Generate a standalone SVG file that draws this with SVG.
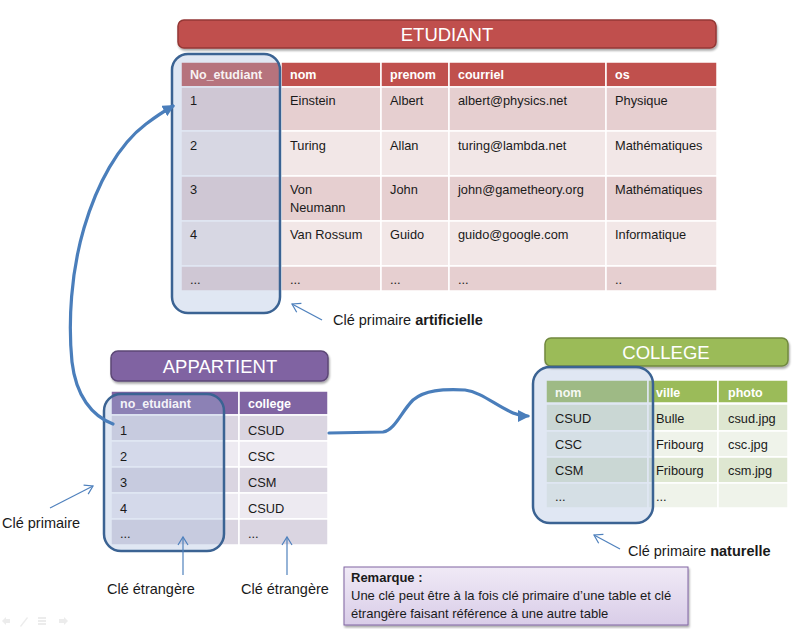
<svg xmlns="http://www.w3.org/2000/svg" width="793" height="629" viewBox="0 0 793 629">
<defs>
<style>
text{font-family:"Liberation Sans",Arial,sans-serif;}
.t{font-size:18.5px;fill:#fff;text-anchor:middle;}
.h{font-size:12.5px;font-weight:bold;fill:#fff;}
.d{font-size:12.8px;fill:#1a1a1a;}
.a{font-size:14.5px;fill:#1a1a1a;}
.r{font-size:13px;fill:#1a1a1a;}
.cell{stroke:#fff;stroke-width:1.5;}
.eh{fill:#C0504D;} .e1{fill:#E6CFD0;} .e2{fill:#F2E7E7;}
.ah{fill:#8064A2;} .a1{fill:#DAD5E1;} .a2{fill:#EDEAF1;}
.ch{fill:#9BBB59;} .c1{fill:#DEE7D1;} .c2{fill:#EFF3EA;}
.ov{fill:#A4B9DC;fill-opacity:0.34;stroke:#3B6393;stroke-width:2.5;}
.link{fill:none;stroke:#4A7EBB;stroke-width:3.2;stroke-linecap:round;}
.ann{fill:none;stroke:#4F81BD;stroke-width:1.2;}
</style>
<filter id="sh" x="-5%" y="-20%" width="110%" height="150%">
<feGaussianBlur in="SourceAlpha" stdDeviation="1.2"/>
<feOffset dx="1" dy="2" result="b"/>
<feComponentTransfer><feFuncA type="linear" slope="0.35"/></feComponentTransfer>
<feMerge><feMergeNode/><feMergeNode in="SourceGraphic"/></feMerge>
</filter>
<linearGradient id="gr" x1="0" y1="0" x2="0" y2="1">
<stop offset="0" stop-color="#F0EAF6"/><stop offset="1" stop-color="#D9CDE8"/>
</linearGradient>
<marker id="big" markerUnits="userSpaceOnUse" markerWidth="14" markerHeight="12" refX="10" refY="6" orient="auto">
<path d="M0,0 L12,6 L0,12 z" fill="#4A7EBB"/>
</marker>
<marker id="open" markerUnits="userSpaceOnUse" markerWidth="12" markerHeight="12" refX="9" refY="6" orient="auto">
<path d="M1,1 L9,6 L1,11" fill="none" stroke="#4F81BD" stroke-width="1.2"/>
</marker>
</defs>
<rect width="793" height="629" fill="#fff"/>

<g id="etudiant">
<rect x="178" y="20" width="538" height="28" rx="6" fill="#C0504D" stroke="#943734" stroke-width="1.5" filter="url(#sh)"/>
<text class="t" x="447" y="41">ETUDIANT</text>
<g>
<rect class="cell eh" x="181" y="62" width="100" height="25"/><rect class="cell eh" x="281" y="62" width="100" height="25"/><rect class="cell eh" x="381" y="62" width="68" height="25"/><rect class="cell eh" x="449" y="62" width="157" height="25"/><rect class="cell eh" x="606" y="62" width="111" height="25"/>
<rect class="cell e1" x="181" y="87" width="100" height="44"/><rect class="cell e1" x="281" y="87" width="100" height="44"/><rect class="cell e1" x="381" y="87" width="68" height="44"/><rect class="cell e1" x="449" y="87" width="157" height="44"/><rect class="cell e1" x="606" y="87" width="111" height="44"/>
<rect class="cell e2" x="181" y="131" width="100" height="45"/><rect class="cell e2" x="281" y="131" width="100" height="45"/><rect class="cell e2" x="381" y="131" width="68" height="45"/><rect class="cell e2" x="449" y="131" width="157" height="45"/><rect class="cell e2" x="606" y="131" width="111" height="45"/>
<rect class="cell e1" x="181" y="176" width="100" height="45"/><rect class="cell e1" x="281" y="176" width="100" height="45"/><rect class="cell e1" x="381" y="176" width="68" height="45"/><rect class="cell e1" x="449" y="176" width="157" height="45"/><rect class="cell e1" x="606" y="176" width="111" height="45"/>
<rect class="cell e2" x="181" y="221" width="100" height="45"/><rect class="cell e2" x="281" y="221" width="100" height="45"/><rect class="cell e2" x="381" y="221" width="68" height="45"/><rect class="cell e2" x="449" y="221" width="157" height="45"/><rect class="cell e2" x="606" y="221" width="111" height="45"/>
<rect class="cell e1" x="181" y="266" width="100" height="25"/><rect class="cell e1" x="281" y="266" width="100" height="25"/><rect class="cell e1" x="381" y="266" width="68" height="25"/><rect class="cell e1" x="449" y="266" width="157" height="25"/><rect class="cell e1" x="606" y="266" width="111" height="25"/>
</g>
<text class="h" x="290" y="79">nom</text><text class="h" x="390" y="79">prenom</text><text class="h" x="458" y="79">courriel</text><text class="h" x="615" y="79">os</text>
<text class="d" x="290" y="105">Einstein</text><text class="d" x="390" y="105">Albert</text><text class="d" x="458" y="105">albert@physics.net</text><text class="d" x="615" y="105">Physique</text>
<text class="d" x="290" y="150">Turing</text><text class="d" x="390" y="150">Allan</text><text class="d" x="458" y="150">turing@lambda.net</text><text class="d" x="615" y="150">Mathématiques</text>
<text class="d" x="290" y="194">Von</text><text class="d" x="290" y="212">Neumann</text><text class="d" x="390" y="194">John</text><text class="d" x="458" y="194">john@gametheory.org</text><text class="d" x="615" y="194">Mathématiques</text>
<text class="d" x="290" y="239">Van Rossum</text><text class="d" x="390" y="239">Guido</text><text class="d" x="458" y="239">guido@google.com</text><text class="d" x="615" y="239">Informatique</text>
<text class="d" x="290" y="284">...</text><text class="d" x="390" y="284">...</text><text class="d" x="458" y="284">...</text><text class="d" x="615" y="284">..</text>
<rect class="ov" x="172" y="54" width="108" height="259" rx="16"/>
<text class="h" x="190" y="79" fill-opacity="0.92">No_etudiant</text>
<text class="d" x="190" y="105">1</text><text class="d" x="190" y="150">2</text><text class="d" x="190" y="194">3</text><text class="d" x="190" y="239">4</text><text class="d" x="190" y="284">...</text>
</g>

<g id="appartient">
<rect x="111" y="351" width="217" height="30" rx="7" fill="#8064A2" stroke="#5C4776" stroke-width="1.5" filter="url(#sh)"/>
<text class="t" x="220" y="373">APPARTIENT</text>
<rect class="cell ah" x="111" y="391" width="128" height="24"/><rect class="cell ah" x="239" y="391" width="89" height="24"/>
<rect class="cell a1" x="111" y="415" width="128" height="26"/><rect class="cell a1" x="239" y="415" width="89" height="26"/>
<rect class="cell a2" x="111" y="441" width="128" height="26"/><rect class="cell a2" x="239" y="441" width="89" height="26"/>
<rect class="cell a1" x="111" y="467" width="128" height="26"/><rect class="cell a1" x="239" y="467" width="89" height="26"/>
<rect class="cell a2" x="111" y="493" width="128" height="26"/><rect class="cell a2" x="239" y="493" width="89" height="26"/>
<rect class="cell a1" x="111" y="519" width="128" height="26"/><rect class="cell a1" x="239" y="519" width="89" height="26"/>
<text class="h" x="248" y="408">college</text>
<text class="d" x="248" y="435">CSUD</text>
<text class="d" x="248" y="461">CSC</text>
<text class="d" x="248" y="487">CSM</text>
<text class="d" x="248" y="513">CSUD</text>
<text class="d" x="248" y="538">...</text>
<rect class="ov" x="104" y="394" width="120" height="157" rx="17"/>
<text class="h" x="120" y="408" fill-opacity="0.92">no_etudiant</text>
<text class="d" x="120" y="435">1</text><text class="d" x="120" y="461">2</text><text class="d" x="120" y="487">3</text><text class="d" x="120" y="513">4</text><text class="d" x="120" y="538">...</text>
</g>

<g id="college">
<rect x="545" y="338" width="243" height="28" rx="6" fill="#9BBB59" stroke="#71893F" stroke-width="1.5" filter="url(#sh)"/>
<text class="t" x="666" y="359">COLLEGE</text>
<rect class="cell ch" x="546" y="380" width="102" height="23"/><rect class="cell ch" x="648" y="380" width="70" height="23"/><rect class="cell ch" x="718" y="380" width="70" height="23"/>
<rect class="cell c1" x="546" y="404" width="102" height="27"/><rect class="cell c1" x="648" y="404" width="70" height="27"/><rect class="cell c1" x="718" y="404" width="70" height="27"/>
<rect class="cell c2" x="546" y="431" width="102" height="26"/><rect class="cell c2" x="648" y="431" width="70" height="26"/><rect class="cell c2" x="718" y="431" width="70" height="26"/>
<rect class="cell c1" x="546" y="457" width="102" height="26"/><rect class="cell c1" x="648" y="457" width="70" height="26"/><rect class="cell c1" x="718" y="457" width="70" height="26"/>
<rect class="cell c2" x="546" y="483" width="102" height="25"/><rect class="cell c2" x="648" y="483" width="70" height="25"/><rect class="cell c2" x="718" y="483" width="70" height="25"/>
<text class="h" x="728" y="397">photo</text>
<text class="d" x="728" y="423">csud.jpg</text>
<text class="d" x="728" y="449">csc.jpg</text>
<text class="d" x="728" y="475">csm.jpg</text>
<rect class="ov" x="533" y="367" width="120" height="156" rx="17"/>
<text class="h" x="555" y="397" fill-opacity="0.92">nom</text><text class="h" x="656" y="397">ville</text>
<text class="d" x="555" y="423">CSUD</text><text class="d" x="656" y="423">Bulle</text>
<text class="d" x="555" y="449">CSC</text><text class="d" x="656" y="449">Fribourg</text>
<text class="d" x="555" y="475">CSM</text><text class="d" x="656" y="475">Fribourg</text>
<text class="d" x="555" y="501">...</text><text class="d" x="656" y="501">...</text>
</g>

<g id="connectors">
<path class="link" d="M113,424 C92,416 76,396 72,362 C68,322 71,272 84,228 C97,184 118,145 146,124 C158,115 166,110 173,106" marker-end="url(#big)"/>
<path class="link" d="M329,433 L383,432 C395,430 401,412 413,400 C425,390 442,389 465,390 C481,392 495,405 513,413 C520,416 524,416 528,416" marker-end="url(#big)"/>
<path class="ann" d="M322,320 L292,304" marker-end="url(#open)"/>
<path class="ann" d="M50,508 L93,486" marker-end="url(#open)"/>
<path class="ann" d="M183,575 L183,537" marker-end="url(#open)"/>
<path class="ann" d="M287,575 L287,537" marker-end="url(#open)"/>
<path class="ann" d="M620,549 L594,535" marker-end="url(#open)"/>
</g>

<g id="labels">
<text class="a" x="333" y="325">Clé primaire <tspan font-weight="bold">artificielle</tspan></text>
<text class="a" x="2" y="528">Clé primaire</text>
<text class="a" x="107" y="594">Clé étrangère</text>
<text class="a" x="241" y="594">Clé étrangère</text>
<text class="a" x="628" y="556">Clé primaire <tspan font-weight="bold">naturelle</tspan></text>
</g>

<g id="remarque">
<rect x="344" y="567" width="344" height="58" fill="url(#gr)" stroke="#8064A2" stroke-width="1" filter="url(#sh)"/>
<text class="r" x="351" y="582" font-weight="bold">Remarque :</text>
<text class="r" x="351" y="600">Une clé peut être à la fois clé primaire d’une table et clé</text>
<text class="r" x="351" y="618">étrangère faisant référence à une autre table</text>
</g>

<g id="controls" fill="#ECECEC" stroke="none">
<path d="M2,621 L6,617 L6,619 L10,619 L10,623 L6,623 L6,625 z"/>
<path d="M20,626 L27,617 L28,618 L21,627 z"/>
<rect x="38" y="617" width="8" height="2"/><rect x="38" y="620" width="8" height="2"/><rect x="38" y="623" width="8" height="2"/>
<path d="M68,621 L64,617 L64,619 L59,619 L59,623 L64,623 L64,625 z"/>
</g>
</svg>
